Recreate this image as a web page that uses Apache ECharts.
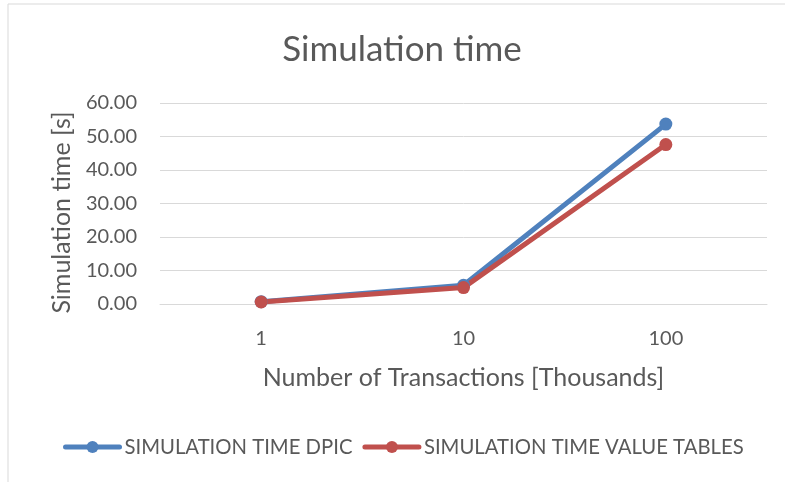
<!DOCTYPE html>
<html lang="en">
<head>
    <meta charset="UTF-8"/>
    <title>Simulation time</title>
    <script src="https://cdn.jsdelivr.net/npm/echarts@6/dist/echarts.min.js"></script>
</head>
<body style="margin:0;background:#fff">
<div id="main" style="width:785px;height:482px"></div>

<script type="text/javascript">
    // data
    var categories = ['1', '10', '100'];
    var dpicTimes = [0.7, 5.6, 53.7];
    var valueTableTimes = [0.6, 4.9, 47.6];
    var yTicks = { min: 0, max: 60, interval: 10 };

    var textColor = '#595959';
    var fontFamily = 'Lato, "Noto Sans", sans-serif';

    var myChart = echarts.init(document.getElementById('main'));
    var option = {
        backgroundColor: '#fff',
        textStyle: { fontFamily: fontFamily },
        title: {
            text: 'Simulation time',
            left: 397,
            textAlign: 'center',
            top: 27,
            textStyle: { color: textColor, fontSize: 35, fontWeight: 'normal', fontFamily: fontFamily }
        },
        graphic: [{
            type: 'rect',
            shape: { x: 8, y: 4, width: 800, height: 500 },
            style: { fill: 'none', stroke: '#d9d9d9', lineWidth: 1 },
            silent: true
        }],
        legend: {
            bottom: 20,
            left: 58,
            itemWidth: 54,
            itemHeight: 15,
            itemGap: 10,
            lineStyle: { width: 5, cap: 'round' },
            textStyle: { color: textColor, fontSize: 20.3, fontFamily: fontFamily }
        },
        grid: { left: 160, right: 18, top: 103, bottom: 178 },
        xAxis: {
            type: 'category',
            data: categories,
            boundaryGap: true,
            name: 'Number of Transactions [Thousands]',
            nameLocation: 'middle',
            nameGap: 61,
            nameTextStyle: { color: textColor, fontSize: 25 },
            axisLine: { lineStyle: { color: '#d9d9d9' } },
            axisTick: { show: false },
            axisLabel: { color: textColor, fontSize: 20, margin: 25 }
        },
        yAxis: {
            type: 'value',
            min: yTicks.min,
            max: yTicks.max,
            interval: yTicks.interval,
            name: 'Simulation time [s]',
            nameLocation: 'middle',
            nameGap: 86,
            nameTextStyle: { color: textColor, fontSize: 25, padding: [0, 18, 0, 0] },
            axisLine: { show: false },
            axisTick: { show: false },
            splitLine: { lineStyle: { color: '#d9d9d9', width: 1 } },
            axisLabel: {
                color: textColor, fontSize: 20, margin: 23,
                formatter: function (v) { return v.toFixed(2); }
            }
        },
        series: [
            {
                name: 'SIMULATION TIME DPIC',
                type: 'line',
                data: dpicTimes,
                symbol: 'circle',
                symbolSize: 13,
                lineStyle: { width: 5, color: '#4f81bd' },
                itemStyle: { color: '#4f81bd' }
            },
            {
                name: 'SIMULATION TIME VALUE TABLES',
                type: 'line',
                data: valueTableTimes,
                symbol: 'circle',
                symbolSize: 13,
                lineStyle: { width: 5, color: '#c0504d' },
                itemStyle: { color: '#c0504d' }
            }
        ]
    };
    myChart.setOption(option);
</script>
</body>
</html>
